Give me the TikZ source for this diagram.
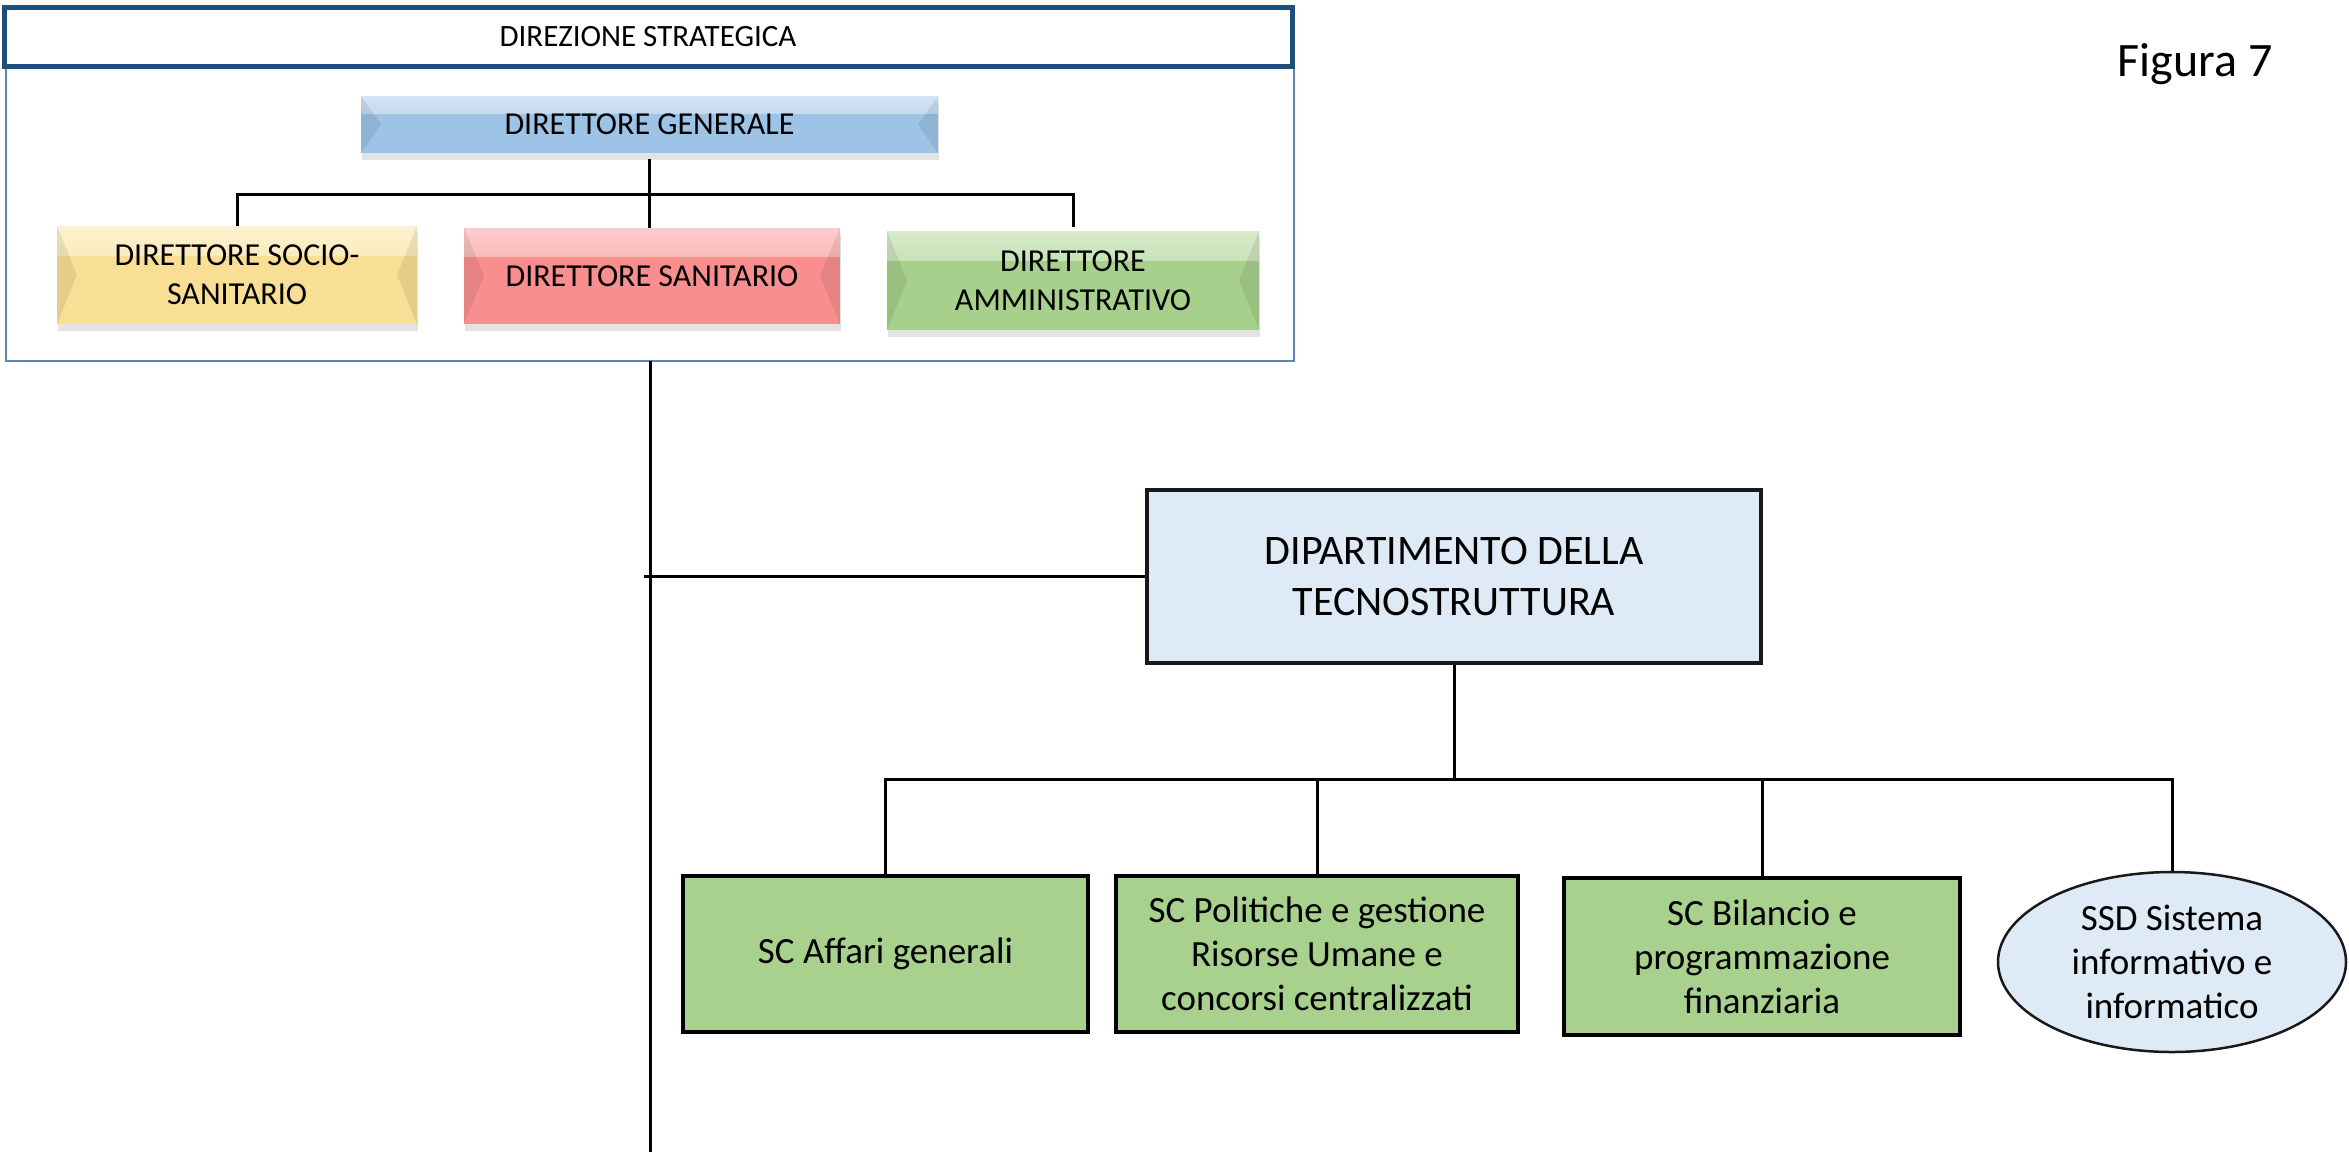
\documentclass[tikz,border=0pt]{standalone}
\usepackage{fontspec}
\setmainfont{Carlito}
\usetikzlibrary{shapes.geometric,shadows,calc}
\definecolor{hdrblue}{HTML}{1F4E79}
\definecolor{framebl}{HTML}{5A86B8}
\definecolor{dgblue}{HTML}{9DC3E6}
\definecolor{ylw}{HTML}{F9DF95}
\definecolor{rd}{HTML}{F98E8E}
\definecolor{grn}{HTML}{A7D08C}
\definecolor{lblue}{HTML}{DEEAF6}
\definecolor{sgreen}{HTML}{A9D18E}
\begin{document}
\begin{tikzpicture}[x=1pt,y=-1pt,
  bevelbox/.style={rectangle, inner sep=0pt, outer sep=0pt, align=center,
    font=\fontsize{32}{39}\selectfont, fill=#1,
    drop shadow={shadow xshift=1pt,shadow yshift=-7pt,opacity=0.22},
    path picture={
      \shade[top color=#1!45!white, bottom color=#1] (path picture bounding box.north west) rectangle ($(path picture bounding box.east)!0.4!(path picture bounding box.north east)$);
      \fill[black,opacity=0.08] (path picture bounding box.north west) -- ([xshift=20pt]path picture bounding box.west) -- (path picture bounding box.south west) -- cycle;
      \fill[black,opacity=0.08] (path picture bounding box.north east) -- ([xshift=-20pt]path picture bounding box.east) -- (path picture bounding box.south east) -- cycle;
    }},
  conn/.style={draw=black, line width=3pt},
  sbox/.style={rectangle, draw=black, line width=3.5pt, fill=sgreen, align=center,
    inner sep=0pt, font=\fontsize{37}{44}\selectfont},
  lbox/.style={draw=black!90, line width=3.5pt, fill=lblue, align=center, inner sep=0pt,
    font=\fontsize{37}{44}\selectfont}
]
\useasboundingbox (0,0) rectangle (2349,1152);

% group frame
\node[draw=framebl, line width=2pt, fill=white, minimum width=1288pt, minimum height=354pt, inner sep=0pt, outer sep=0pt] (frame) at (650,184) {};
\node[draw=hdrblue, line width=5pt, fill=white, minimum width=1288pt, minimum height=59pt, inner sep=0pt, font=\fontsize{31}{36}\selectfont] (hdr) at (648,36.5) {DIREZIONE STRATEGICA};

\node[bevelbox=dgblue, minimum width=577pt, minimum height=57pt] (dg) at (649.5,124.5) {DIRETTORE GENERALE};
\node[bevelbox=ylw, minimum width=360pt, minimum height=98pt] (ss) at (237,275) {DIRETTORE SOCIO-\\SANITARIO};
\node[bevelbox=rd, minimum width=376pt, minimum height=96pt] (san) at (652,276) {DIRETTORE SANITARIO};
\node[bevelbox=grn, minimum width=372pt, minimum height=99pt] (amm) at (1073,280.5) {DIRETTORE\\AMMINISTRATIVO};

\coordinate (bus) at (650,194);
\draw[conn] (ss.north) -- (ss.north |- bus) -- (amm.north |- bus) -- ([yshift=4pt]amm.north);
\draw[conn] ([yshift=-6pt]dg.south) -- (dg.south |- san.north);

% main vertical line
\coordinate (bottomend) at (650,1152);
\draw[conn] (frame.south) -- (bottomend);

% dipartimento
\node[lbox, minimum width=614pt, minimum height=173pt, font=\fontsize{42}{51}\selectfont] (dip) at (1454,576.5) {DIPARTIMENTO DELLA\\TECNOSTRUTTURA};
\draw[conn] (dip.west) -- ([xshift=-6pt]dip.west -| frame.south);

\node[sbox, minimum width=405pt, minimum height=156pt] (g1) at (885.5,954) {SC Affari generali};
\node[sbox, minimum width=402pt, minimum height=156pt] (g2) at (1317,954) {SC Politiche e gestione\\Risorse Umane e\\concorsi centralizzati};
\node[sbox, minimum width=396pt, minimum height=157pt] (g3) at (1762,956.5) {SC Bilancio e\\programmazione\\finanziaria};
\node[lbox, ellipse, line width=2.5pt, minimum width=348pt, minimum height=180pt] (ssd) at (2172,962) {SSD Sistema\\informativo e\\informatico};

\coordinate (bus2) at (1455,779);
\draw[conn] (dip.south) -- (dip.south |- bus2);
\draw[conn] (g1.north) -- (g1.north |- bus2) -- (ssd.north |- bus2) -- (ssd.north);
\draw[conn] (g2.north) -- (g2.north |- bus2);
\draw[conn] (g3.north) -- (g3.north |- bus2);

\node[anchor=base, font=\fontsize{48}{56}\selectfont, inner sep=0pt] (fig) at (2195,76) {Figura 7};
\end{tikzpicture}
\end{document}
